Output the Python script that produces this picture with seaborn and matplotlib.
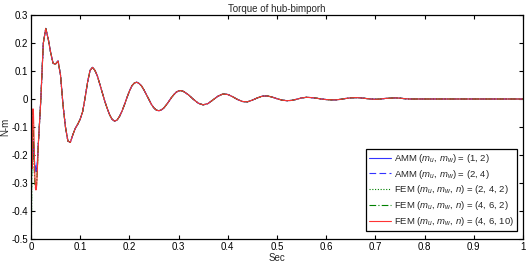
import numpy as np
import pandas as pd
import seaborn as sns
import matplotlib
matplotlib.use("Agg")
import matplotlib.pyplot as plt

# start-up transient, different for each model (sec / N-m)
t_head = [0, 0.001, 0.002, 0.003, 0.004, 0.005, 0.006, 0.007, 0.008, 0.009,
          0.010, 0.011, 0.012, 0.013, 0.014, 0.015, 0.0175]
amm_12_head = [0, -0.08, -0.16, -0.21, -0.19, -0.15, -0.17, -0.22, -0.245, -0.24,
               -0.25, -0.26, -0.25, -0.22, -0.19, -0.157, -0.08]
amm_24_head = [0, -0.10, -0.18, -0.22, -0.20, -0.16, -0.18, -0.22, -0.24, -0.25,
               -0.26, -0.26, -0.25, -0.22, -0.19, -0.157, -0.08]
fem_242_head = [0, -0.45, -0.10, -0.05, -0.08, -0.15, -0.22, -0.27, -0.30, -0.31,
                -0.32, -0.31, -0.28, -0.24, -0.20, -0.157, -0.08]
fem_462_head = [0, -0.40, -0.12, -0.04, -0.06, -0.13, -0.21, -0.27, -0.30, -0.32,
                -0.325, -0.315, -0.29, -0.25, -0.20, -0.157, -0.08]
fem_4610_head = [0, -0.15, -0.25, -0.08, -0.035, -0.05, -0.12, -0.22, -0.28, -0.31,
                 -0.325, -0.32, -0.29, -0.25, -0.20, -0.157, -0.08]

# after the transient all five curves lie on top of each other
t_tail = [0.020, 0.025, 0.030, 0.035, 0.040, 0.045, 0.050, 0.055, 0.060, 0.065,
          0.070, 0.075, 0.080, 0.085, 0.090, 0.095, 0.100, 0.105, 0.110, 0.115,
          0.120, 0.125, 0.130, 0.135, 0.140, 0.145, 0.150, 0.155, 0.160, 0.165,
          0.170, 0.175, 0.180, 0.185, 0.190, 0.195, 0.200, 0.205, 0.210, 0.215,
          0.220, 0.225, 0.230, 0.235, 0.240, 0.245, 0.250, 0.255, 0.260, 0.265,
          0.270, 0.275, 0.280, 0.285, 0.290, 0.295, 0.300, 0.305,
          0.31, 0.32, 0.33, 0.34, 0.35, 0.36, 0.37, 0.38, 0.39, 0.40,
          0.41, 0.42, 0.43, 0.44, 0.45, 0.46, 0.47, 0.48, 0.49, 0.50,
          0.51, 0.52, 0.53, 0.54, 0.55, 0.56, 0.57, 0.58, 0.59, 0.60,
          0.61, 0.62, 0.63, 0.64, 0.65, 0.66, 0.67, 0.68, 0.69, 0.70,
          0.71, 0.72, 0.73, 0.74, 0.75, 0.76, 0.77, 0.78, 0.80, 0.90, 1.00]
tail = [0.000, 0.199, 0.252, 0.215, 0.165, 0.127, 0.125, 0.136, 0.085, -0.020,
        -0.100, -0.150, -0.155, -0.128, -0.105, -0.090, -0.072, -0.045, 0.005, 0.060,
        0.102, 0.113, 0.102, 0.082, 0.052, 0.022, -0.008, -0.034, -0.057, -0.073,
        -0.079, -0.075, -0.062, -0.043, -0.020, 0.005, 0.028, 0.047, 0.057, 0.060,
        0.055, 0.046, 0.031, 0.014, -0.003, -0.020, -0.032, -0.040, -0.042, -0.039,
        -0.032, -0.021, -0.009, 0.004, 0.015, 0.024, 0.029, 0.030,
        0.027, 0.015, -0.001, -0.015, -0.021, -0.016, -0.003, 0.010, 0.018, 0.016,
        0.008, -0.002, -0.009, -0.010, -0.004, 0.004, 0.010, 0.011, 0.007, 0.001,
        -0.004, -0.006, -0.005, -0.001, 0.004, 0.006, 0.005, 0.003, 0.000, -0.002,
        -0.003, -0.003, -0.001, 0.002, 0.004, 0.005, 0.004, 0.002, 0.000, -0.001,
        0.000, 0.002, 0.003, 0.004, 0.003, 0.001, 0.000, 0.000, 0.000, 0.000, 0.000]

labels = [r"AMM ($m_u$, $m_w$) = (1, 2)",
          r"AMM ($m_u$, $m_w$) = (2, 4)",
          r"FEM ($m_u$, $m_w$, $n$) = (2, 4, 2)",
          r"FEM ($m_u$, $m_w$, $n$) = (4, 6, 2)",
          r"FEM ($m_u$, $m_w$, $n$) = (4, 6, 10)"]
heads = [amm_12_head, amm_24_head, fem_242_head, fem_462_head, fem_4610_head]
colors = ["#3333ff", "#3333ff", "#008000", "#008000", "#ff3333"]
styles = ["-", (0, (6, 3)), (0, (1, 1.5)), (0, (6, 2, 1, 2)), "-"]

sns.set_style("ticks")
plt.rcParams["font.family"] = ["Liberation Sans", "DejaVu Sans"]
plt.rcParams["mathtext.fontset"] = "custom"
plt.rcParams["mathtext.rm"] = "Liberation Sans"
plt.rcParams["mathtext.it"] = "Liberation Sans:italic"

fig = plt.figure(figsize=(5.28, 2.70), dpi=100)
ax = fig.add_axes([31 / 528, 31 / 270, 492 / 528, 224 / 270])

t_all = t_head + t_tail
for lab, head, col, ls in zip(labels, heads, colors, styles):
    df = pd.DataFrame({"t": t_all, "torque": head + tail})
    sns.lineplot(data=df, x="t", y="torque", ax=ax, color=col, linestyle=ls,
                 linewidth=0.8, label=lab, estimator=None, sort=False)

ax.set_xlim(0, 1)
ax.set_ylim(-0.5, 0.3)
ax.set_xticks(np.arange(0, 1.01, 0.1))
ax.set_xticklabels(["0", "0.1", "0.2", "0.3", "0.4", "0.5", "0.6", "0.7", "0.8", "0.9", "1"])
ax.set_yticks(np.arange(-0.5, 0.31, 0.1))
ax.set_yticklabels(["-0.5", "-0.4", "-0.3", "-0.2", "-0.1", "0", "0.1", "0.2", "0.3"])
ax.tick_params(direction="in", top=True, right=True, length=3, width=0.8,
               labelsize=7, colors="black", pad=2)
for sp in ax.spines.values():
    sp.set_visible(True)
    sp.set_color("black")
    sp.set_linewidth(0.9)

ax.set_title("Torque of hub-bimporh", fontsize=7, pad=2.5)
ax.set_xlabel("Sec", fontsize=7, labelpad=1)
ax.set_ylabel("N-m", fontsize=7, labelpad=1)

leg = ax.legend(loc="lower right", fontsize=6.8, frameon=True, fancybox=False,
                edgecolor="black", framealpha=1, labelspacing=0.3,
                handlelength=2.4, handletextpad=0.3, borderpad=0.3,
                borderaxespad=0, bbox_to_anchor=(486 / 492, 8 / 224))
leg.get_frame().set_linewidth(0.9)

fig.savefig("out.png", dpi=100)
